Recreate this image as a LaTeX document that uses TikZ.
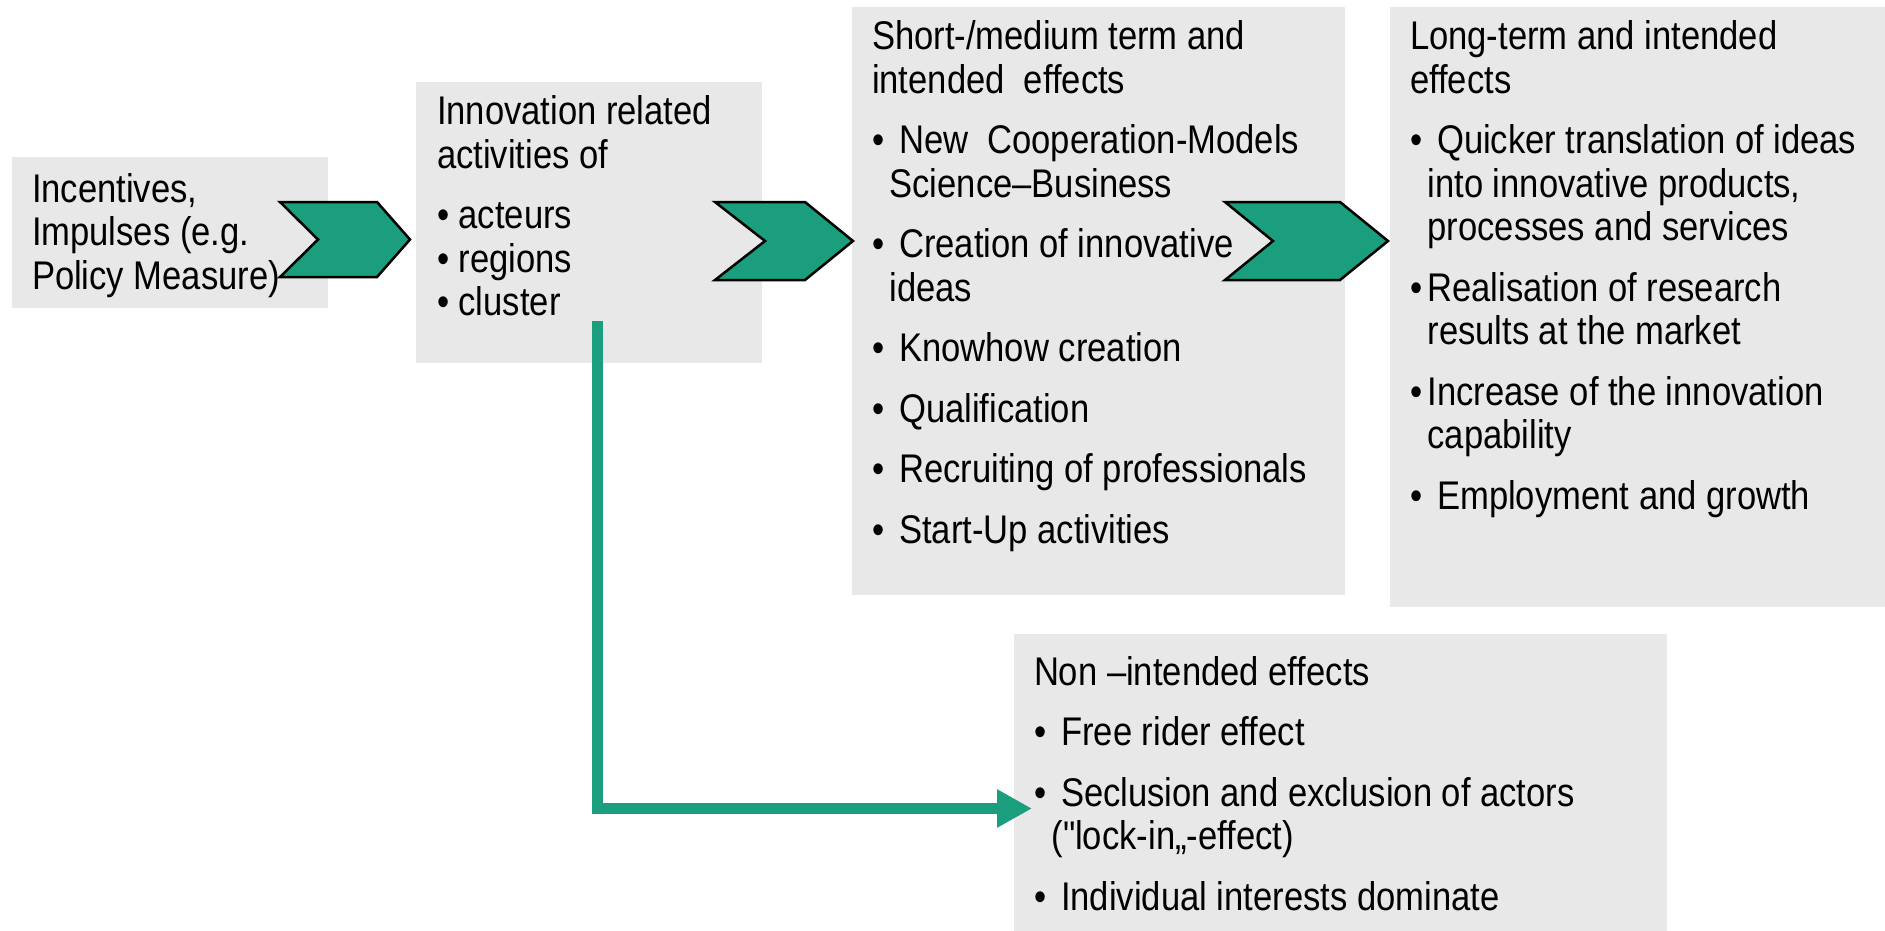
\documentclass[tikz,border=0pt]{standalone}
\usepackage{fontspec}
\setmainfont[FakeStretch=0.865, Ligatures=TeXOff]{Liberation Sans}
\usetikzlibrary{arrows.meta}

\definecolor{panelgray}{RGB}{232,232,232}
\definecolor{flowgreen}{RGB}{26,158,126}

% body type and list helpers
\newcommand\bodyfont{\fontsize{40pt}{43.5pt}\selectfont}
\newcommand\bl{\makebox[17.5pt][l]{•}}
\newcommand\cont{\hspace*{17.5pt}}
\newcommand\panelcopy[1]{%
  \begin{minipage}[t]{600pt}\bodyfont\raggedright
    \setlength{\parskip}{17pt}\setlength{\parindent}{0pt}#1%
  \end{minipage}}

\tikzset{
  panel/.style={fill=panelgray, draw=none, inner sep=0pt, outer sep=0pt, anchor=north west},
  copy/.style={inner sep=0pt, outer sep=0pt, anchor=base west},
  chev/.style={fill=flowgreen, draw=black, line width=2.5pt, line join=miter},
  flow/.style={draw=flowgreen, line width=11pt, line join=miter,
               -{Triangle[length=35pt,width=36pt]}}
}

\begin{document}
\begin{tikzpicture}[x=1pt, y=-1pt]
  \useasboundingbox (0,0) rectangle (1885,931);

  % grey panels
  \node[panel, minimum width=316pt, minimum height=151pt] (box1) at (12,157) {};
  \node[panel, minimum width=346pt, minimum height=281pt] (box2) at (416,82) {};
  \node[panel, minimum width=493pt, minimum height=588pt] (box3) at (852,7) {};
  \node[panel, minimum width=495pt, minimum height=600pt] (box4) at (1390,7) {};
  \node[panel, minimum width=653pt, minimum height=297pt] (box5) at (1014,634) {};

  % panel texts
  \node[copy] (txt1) at (32,202) {\panelcopy{%
    Incentives,\\Impulses (e.g.\\Policy Measure)}};

  \node[copy] (txt2) at (437,125) {\panelcopy{%
    Innovation related\\activities of\par
    • acteurs\\• regions\\• cluster}};

  \node[copy] (txt3) at (872,50) {\panelcopy{%
    Short-/medium term and\\intended\ \ effects\par
    \bl\ New\ \ Cooperation-Models\\\cont Science–Business\par
    \bl\ Creation of innovative\\\cont ideas\par
    \bl\ Knowhow creation\par
    \bl\ Qualification\par
    \bl\ Recruiting of professionals\par
    \bl\ Start-Up activities}};

  \node[copy] (txt4) at (1410,50) {\panelcopy{%
    Long-term and intended\\effects\par
    \bl\ Quicker translation of ideas\\\cont into innovative products,\\\cont processes and services\par
    \bl Realisation of research\\\cont results at the market\par
    \bl Increase of the innovation\\\cont capability\par
    \bl\ Employment and growth}};

  \node[copy] (txt5) at (1034,685) {\panelcopy{%
    Non –intended effects\par
    \bl\ Free rider effect\par
    \bl\ Seclusion and exclusion of actors\\\cont ("lock-in„-effect)\par
    \bl\ Individual interests dominate}};

  % chevrons between the stages
  \draw[chev] (280,202) -- (377,202) -- (410,239.5) -- (377,277) -- (280,277) -- (318,239.5) -- cycle;
  \draw[chev] (715,202) -- (805,202) -- (853,241) -- (805,280) -- (715,280) -- (765,241) -- cycle;
  \draw[chev] (1225,202) -- (1340,202) -- (1388,241) -- (1340,280) -- (1225,280) -- (1273,241) -- cycle;

  % side branch to the non-intended effects
  \coordinate (branch) at (597.5,321);
  \coordinate (branchtip) at (1032,808.5);
  \draw[flow] (branch) |- (branchtip);
\end{tikzpicture}
\end{document}
